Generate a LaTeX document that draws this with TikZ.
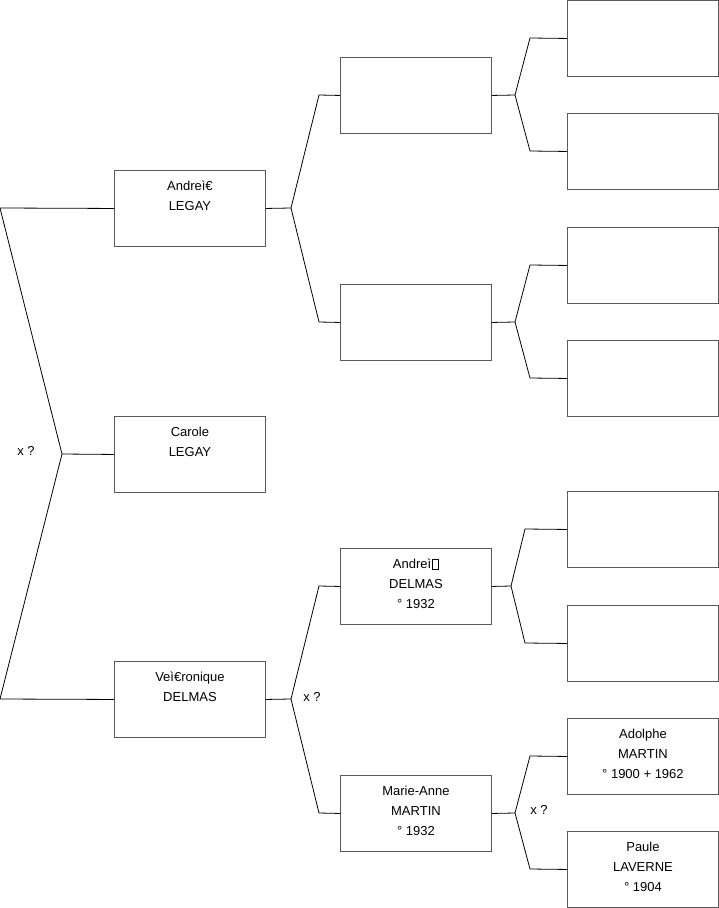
\documentclass[tikz,border=0pt]{standalone}
\usepackage{fontspec}
\setmainfont{Liberation Sans}
\newcommand{\missglyph}{{\fboxsep=0pt\fboxrule=0.6pt\hspace{1pt}\fbox{\rule{0pt}{9pt}\hspace{5.5pt}}}}
\begin{document}
\begin{tikzpicture}[x=1pt,y=-1pt,
  pbox/.style={draw=black!65, line width=0.9pt, minimum width=151pt, minimum height=76pt, inner sep=0, anchor=north west},
  ptext/.style={anchor=north, inner sep=0, align=center, font=\fontsize{13}{20}\selectfont},
  conn/.style={draw=black, line width=0.8pt},
  xq/.style={inner sep=0, font=\fontsize{13}{14}\selectfont}]
\useasboundingbox (0,0) rectangle (719,908);
% column 1
\node[pbox] (a1) at (114,170) {};
\node[pbox] (a2) at (114,416) {};
\node[pbox] (a3) at (114,661) {};
% column 2
\node[pbox] (b1) at (340,57) {};
\node[pbox] (b2) at (340,284) {};
\node[pbox] (b3) at (340,548) {};
\node[pbox] (b4) at (340,775) {};
% column 3
\node[pbox] (c1) at (567,0) {};
\node[pbox] (c2) at (567,113) {};
\node[pbox] (c3) at (567,227) {};
\node[pbox] (c4) at (567,340) {};
\node[pbox] (c5) at (567,491) {};
\node[pbox] (c6) at (567,605) {};
\node[pbox] (c7) at (567,718) {};
\node[pbox] (c8) at (567,831) {};
% texts
\node[ptext] (ta1) at (a1.north) {\rule{0pt}{20.5pt}Andreì€\\LEGAY};
\node[ptext] (ta2) at (a2.north) {\rule{0pt}{20.5pt}Carole\\LEGAY};
\node[ptext] (ta3) at (a3.north) {\rule{0pt}{20.5pt}Veì€ronique\\DELMAS};
\node[ptext] (tb3) at (b3.north) {\rule{0pt}{20.5pt}Andreì\missglyph\\DELMAS\\° 1932};
\node[ptext] (tb4) at (b4.north) {\rule{0pt}{20.5pt}Marie-Anne\\MARTIN\\° 1932};
\node[ptext] (tc7) at (c7.north) {\rule{0pt}{20.5pt}Adolphe\\MARTIN\\° 1900 + 1962};
\node[ptext] (tc8) at (c8.north) {\rule{0pt}{20.5pt}Paule\\LAVERNE\\° 1904};
% junction coordinates
\coordinate (j0t) at (0,208);
\coordinate (j0) at (62,454);
\coordinate (j0b) at (0,699);
\coordinate (j1) at (291,208);
\coordinate (j1u) at (319,95);
\coordinate (j1d) at (319,322);
\coordinate (j2) at (291,699);
\coordinate (j2u) at (319,586);
\coordinate (j2d) at (319,813);
\coordinate (k1) at (515,95);
\coordinate (k1u) at (530,38);
\coordinate (k1d) at (530,151);
\coordinate (k2) at (515,322);
\coordinate (k2u) at (530,265);
\coordinate (k2d) at (530,378);
\coordinate (k3) at (511,586);
\coordinate (k3u) at (525,529);
\coordinate (k3d) at (525,643);
\coordinate (k4) at (515,813);
\coordinate (k4u) at (530,756);
\coordinate (k4d) at (530,869);
% connectors
\draw[conn] (a1.west) -- (j0t) -- (j0) -- (j0b) -- (a3.west);
\draw[conn] (j0) -- (a2.west);
\draw[conn] (a1.east) -- (j1) -- (j1u) -- (b1.west);
\draw[conn] (j1) -- (j1d) -- (b2.west);
\draw[conn] (a3.east) -- (j2) -- (j2u) -- (b3.west);
\draw[conn] (j2) -- (j2d) -- (b4.west);
\draw[conn] (b1.east) -- (k1) -- (k1u) -- (c1.west);
\draw[conn] (k1) -- (k1d) -- (c2.west);
\draw[conn] (b2.east) -- (k2) -- (k2u) -- (c3.west);
\draw[conn] (k2) -- (k2d) -- (c4.west);
\draw[conn] (b3.east) -- (k3) -- (k3u) -- (c5.west);
\draw[conn] (k3) -- (k3d) -- (c6.west);
\draw[conn] (b4.east) -- (k4) -- (k4u) -- (c7.west);
\draw[conn] (k4) -- (k4d) -- (c8.west);
% x ? labels
\node[xq] (x0) at (26,451) {x ?};
\node[xq] (x1) at (312,697) {x ?};
\node[xq] (x2) at (539,810) {x ?};
\end{tikzpicture}
\end{document}
